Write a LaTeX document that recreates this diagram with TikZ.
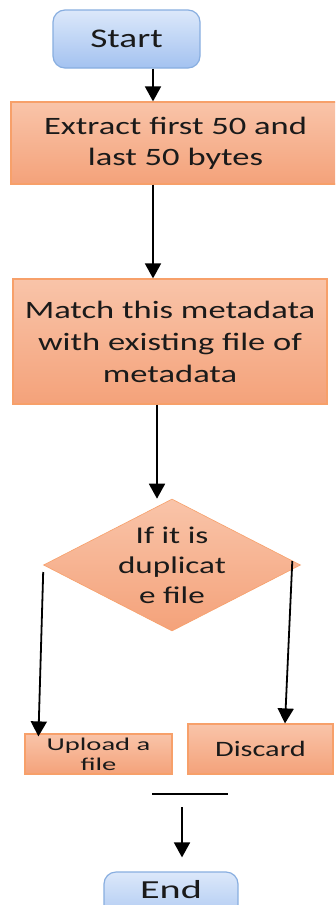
\documentclass[tikz,border=0pt]{standalone}
\usepackage{fontspec}
\setmainfont{Carlito}[FakeStretch=1.38]
\usetikzlibrary{shapes.geometric,arrows.meta}
\definecolor{otop}{HTML}{F9C4A9}
\definecolor{obot}{HTML}{F4A27A}
\definecolor{oline}{HTML}{F7A06A}
\definecolor{btop}{HTML}{DCE8FA}
\definecolor{bbot}{HTML}{A3C2F0}
\definecolor{bline}{HTML}{88AEE0}
\definecolor{txt}{HTML}{1A1A1A}
\begin{document}
\begin{tikzpicture}[x=1pt,y=-1pt,
  obox/.style={rectangle, draw=oline, line width=1.2pt, top color=otop, bottom color=obot, inner sep=0pt, text=txt, align=center},
  term/.style={rectangle, rounded corners=12pt, draw=bline, line width=1.2pt, top color=btop, bottom color=bbot, inner sep=0pt, text=txt},
  dec/.style={diamond, draw=oline, line width=0.6pt, top color=otop, bottom color=obot, inner sep=0pt},
  dtxt/.style={text=txt, align=center, inner sep=0pt},
  arr/.style={-{Triangle[width=16pt,length=15pt]}, line width=1.8pt, black},
  ln/.style={line width=1.8pt, black}]
\useasboundingbox (0,0) rectangle (335,905);
\clip (0,0) rectangle (335,905);
\fill[white] (0,0) rectangle (335,905);

\node[term, minimum width=147pt, minimum height=58pt, font=\fontsize{27}{32}\selectfont] (start) at (126.5,39) {Start};
\node[obox, minimum width=329pt, minimum height=82pt, font=\fontsize{25}{31}\selectfont] (b1) at (175.5,143) {Extract first 50 and\\last 50 bytes};
\node[obox, minimum width=314pt, minimum height=125pt, font=\fontsize{25}{32}\selectfont] (b2) at (170,341.5) {Match this metadata\\with existing file of\\metadata};
\node[dec, minimum width=257pt, minimum height=132pt] (d) at (172,565) {};
\node[dtxt, font=\fontsize{24}{30}\selectfont] (dt) at (d) {If it is\\duplicat\\e file};
\node[obox, minimum width=147pt, minimum height=40pt, font=\fontsize{18}{20}\selectfont] (up) at (98.5,754) {\scalebox{1.15}[1]{Upload a}\\\scalebox{1.15}[1]{file}};
\node[obox, minimum width=145pt, minimum height=50pt, font=\fontsize{22}{26}\selectfont] (disc) at (260.5,749) {Discard};
\node[term, minimum width=134pt, minimum height=58pt, text height=18pt, text depth=24pt, font=\fontsize{26}{30}\selectfont] (end) at (171,901) {\scalebox{1.12}[1]{End}};

\draw[arr] ([xshift=26.5pt]start.south) -- ([xshift=-22.5pt]b1.north);
\draw[arr] ([xshift=-22.5pt]b1.south) -- ([xshift=-17pt]b2.north);
\draw[arr] ([xshift=-13pt]b2.south) -- ([xshift=-15pt]d.north);
\draw[arr] ([yshift=-7pt]d.west) -- ([xshift=14pt,yshift=-3pt]up.north west);
\draw[arr] ([xshift=-8.5pt,yshift=4pt]d.east) -- ([xshift=24.5pt]disc.north);
\coordinate (h1) at (152,794);
\coordinate (h2) at (228,794);
\draw[ln] (h1) -- (h2);
\coordinate (a0) at (182,807);
\draw[arr] (a0) -- ([xshift=11pt,yshift=14pt]end.north);
\end{tikzpicture}
\end{document}
